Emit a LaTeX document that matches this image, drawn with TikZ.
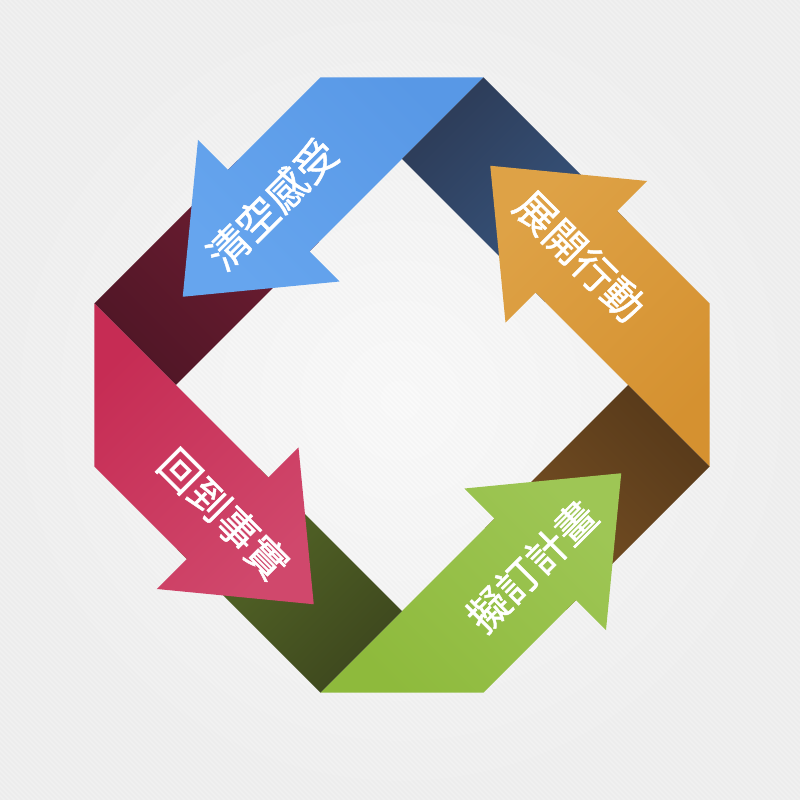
\documentclass[tikz,border=0pt]{standalone}
\usepackage{fontspec}
\newfontfamily\cjk[FakeBold=1.2]{Noto Sans CJK TC}

\definecolor{paper}{RGB}{250,250,250}
\definecolor{paperedge}{RGB}{240,240,240}
\definecolor{skyhead}{RGB}{102,165,238}
\definecolor{skytail}{RGB}{88,152,230}
\definecolor{winedark}{RGB}{80,22,38}
\definecolor{wine}{RGB}{114,30,52}
\definecolor{amberhead}{RGB}{222,162,70}
\definecolor{ambertail}{RGB}{213,145,48}
\definecolor{navydark}{RGB}{45,60,88}
\definecolor{navy}{RGB}{57,89,132}
\definecolor{limehead}{RGB}{158,198,85}
\definecolor{limetail}{RGB}{142,186,60}
\definecolor{umberdark}{RGB}{88,58,26}
\definecolor{umber}{RGB}{122,82,36}
\definecolor{rosehead}{RGB}{208,72,108}
\definecolor{rosetail}{RGB}{198,44,84}
\definecolor{olivedark}{RGB}{62,72,30}
\definecolor{olive}{RGB}{88,108,40}

\begin{document}
\begin{tikzpicture}[x=1pt,y=1pt,
  steplabel/.style={text=white,font=\cjk\fontsize{41}{41}\selectfont,inner sep=0pt}]

\useasboundingbox (-402,-415) rectangle (398,385);
\shade[inner color=paper,outer color=paperedge] (-402,-415) rectangle (398,385);
\begin{scope}
  \clip (-402,-415) rectangle (398,385);
  \foreach \c in {-820,-815,...,800}
    \draw[black,opacity=.015,line width=1.5] (\c-400,400) to (\c+420,-420);
\end{scope}

% clear the feelings (blue) over the wine fold
\begin{scope}[rotate=0]
  \shade[bottom color=winedark,top color=wine,shading angle=-45]
    (-307.5,81.5) to (-226,0) to (-83,143) to (-164.5,224.5) to cycle;
  \shade[bottom color=skytail,top color=skyhead,shading angle=135]
    (-81.5,307.5) to (-174,215) to (-204,245) to (-219.25,88.25)
    to (-62.5,103.5) to (-92.5,133.5) to (81.5,307.5) to cycle;
\end{scope}

% take action (amber) over the navy fold
\begin{scope}[rotate=-90]
  \shade[bottom color=navydark,top color=navy,shading angle=-135]
    (-307.5,81.5) to (-226,0) to (-83,143) to (-164.5,224.5) to cycle;
  \shade[bottom color=ambertail,top color=amberhead,shading angle=45]
    (-81.5,307.5) to (-174,215) to (-204,245) to (-219.25,88.25)
    to (-62.5,103.5) to (-92.5,133.5) to (81.5,307.5) to cycle;
\end{scope}

% make the plan (lime) over the umber fold
\begin{scope}[rotate=-180]
  \shade[bottom color=umberdark,top color=umber,shading angle=-225]
    (-307.5,81.5) to (-226,0) to (-83,143) to (-164.5,224.5) to cycle;
  \shade[bottom color=limetail,top color=limehead,shading angle=-45]
    (-81.5,307.5) to (-174,215) to (-204,245) to (-219.25,88.25)
    to (-62.5,103.5) to (-92.5,133.5) to (81.5,307.5) to cycle;
\end{scope}

% back to the facts (rose) over the olive fold
\begin{scope}[rotate=-270]
  \shade[bottom color=olivedark,top color=olive,shading angle=-315]
    (-307.5,81.5) to (-226,0) to (-83,143) to (-164.5,224.5) to cycle;
  \shade[bottom color=rosetail,top color=rosehead,shading angle=-135]
    (-81.5,307.5) to (-174,215) to (-204,245) to (-219.25,88.25)
    to (-62.5,103.5) to (-92.5,133.5) to (81.5,307.5) to cycle;
\end{scope}

% labels
\node[steplabel,rotate=45] (clear) at (-130,181) {清空感受};
\node[steplabel,rotate=-45] (act) at (178,129) {展開行動};
\node[steplabel,rotate=45] (plan) at (130,-181) {擬訂計畫};
\node[steplabel,rotate=-45] (facts) at (-178,-129) {回到事實};

\end{tikzpicture}
\end{document}
